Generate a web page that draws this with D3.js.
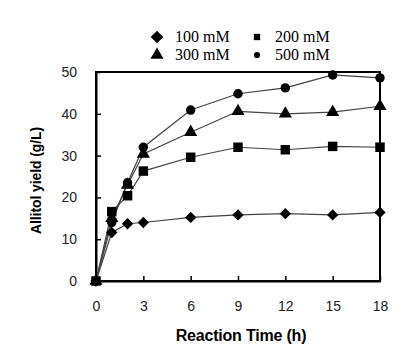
<!DOCTYPE html>
<html>
<head>
<meta charset="utf-8">
<script src="https://cdn.jsdelivr.net/npm/d3@7"></script>
<style>
  body { margin: 0; background: #fff; }
</style>
</head>
<body>
<div id="chart"></div>
<script>
// Allitol yield over reaction time at different substrate concentrations

const times = [0, 1, 2, 3, 6, 9, 12, 15, 18];
const yield100 = [0, 11.6, 13.7, 14.0, 15.2, 15.8, 16.1, 15.8, 16.4];
const yield200 = [0, 16.6, 20.4, 26.3, 29.6, 32.0, 31.4, 32.2, 32.0];
const yield300 = [0, 15.0, 23.0, 30.4, 35.6, 40.6, 40.0, 40.4, 41.8];
const yield500 = [0, 14.0, 23.5, 32.0, 40.9, 44.8, 46.2, 49.3, 48.6];
const seriesNames = ["100 mM", "200 mM", "300 mM", "500 mM"];
const xTicks = [0, 3, 6, 9, 12, 15, 18];
const yTicks = [0, 10, 20, 30, 40, 50];

const width = 417;
const height = 361;
const margin = {top: 72, right: 37, bottom: 80, left: 96};

const svg = d3.select("#chart")
  .append("svg")
  .attr("width", width)
  .attr("height", height);

const x = d3.scaleLinear()
  .domain([0, 18])
  .range([margin.left, width - margin.right]);

const y = d3.scaleLinear()
  .domain([0, 50])
  .range([height - margin.bottom, margin.top]);

// diamond = square turned by 45 degrees
const diamond = {
  draw(context, size) {
    const r = Math.sqrt(size / 2);
    context.moveTo(0, -r);
    context.lineTo(r, 0);
    context.lineTo(0, r);
    context.lineTo(-r, 0);
    context.closePath();
  }
};

// series with their marker shapes, drawn so the 200 mM squares end on top
const series = [
  {name: seriesNames[3], values: yield500, symbol: d3.symbolCircle, size: 70},
  {name: seriesNames[2], values: yield300, symbol: d3.symbolTriangle, size: 75},
  {name: seriesNames[0], values: yield100, symbol: diamond, size: 64},
  {name: seriesNames[1], values: yield200, symbol: d3.symbolSquare, size: 90}
];

// frame
svg.append("rect")
  .attr("x", x(0))
  .attr("y", y(50))
  .attr("width", x(18) - x(0))
  .attr("height", y(0) - y(50))
  .attr("fill", "none")
  .attr("stroke", "#000")
  .attr("stroke-width", 2);

// axes with inward ticks
const xAxis = svg.append("g")
  .attr("transform", `translate(0,${y(0)})`)
  .call(d3.axisBottom(x).tickValues(xTicks).tickSizeInner(-5).tickSizeOuter(0).tickPadding(20));

const yAxis = svg.append("g")
  .attr("transform", `translate(${x(0)},0)`)
  .call(d3.axisLeft(y).tickValues(yTicks).tickSizeInner(-5).tickSizeOuter(0).tickPadding(19));

[xAxis, yAxis].forEach(a => {
  a.select(".domain").attr("stroke", "#000").attr("stroke-width", 2);
  a.selectAll(".tick line").attr("stroke", "#000").attr("stroke-width", 1.5);
  a.selectAll(".tick text")
    .attr("fill", "#222")
    .attr("font-family", "Liberation Sans, Arial, sans-serif")
    .attr("font-size", 14);
});

// lines
const line = d3.line()
  .x((d, i) => x(times[i]))
  .y(d => y(d));

series.forEach(s => {
  svg.append("path")
    .datum(s.values)
    .attr("fill", "none")
    .attr("stroke", "#444")
    .attr("stroke-width", 1.2)
    .attr("d", line);
});

series.forEach(s => {
  svg.append("g")
    .selectAll("path")
    .data(s.values)
    .join("path")
      .attr("transform", (d, i) => `translate(${x(times[i])},${y(d)})`)
      .attr("d", d3.symbol().type(s.symbol).size(s.size))
      .attr("fill", "#000");
});

// axis titles
svg.append("text")
  .attr("x", (x(0) + x(18)) / 2 + 3)
  .attr("y", 341)
  .attr("text-anchor", "middle")
  .attr("font-family", "Liberation Sans, Arial, sans-serif")
  .attr("font-weight", "bold")
  .attr("font-size", 16)
  .attr("letter-spacing", -0.2)
  .text("Reaction Time (h)");

svg.append("text")
  .attr("transform", `translate(41,${(y(0) + y(50)) / 2 + 4}) rotate(-90)`)
  .attr("text-anchor", "middle")
  .attr("font-family", "Liberation Sans, Arial, sans-serif")
  .attr("font-weight", "bold")
  .attr("font-size", 14)
  .attr("letter-spacing", -0.1)
  .text("Allitol yield (g/L)");

// legend
const legendItems = [
  {name: seriesNames[0], symbol: diamond, size: 80, col: 0, row: 0},
  {name: seriesNames[1], symbol: d3.symbolSquare, size: 40, col: 1, row: 0},
  {name: seriesNames[2], symbol: d3.symbolTriangle, size: 75, col: 0, row: 1},
  {name: seriesNames[3], symbol: d3.symbolCircle, size: 30, col: 1, row: 1}
];

const legend = svg.append("g")
  .selectAll("g")
  .data(legendItems)
  .join("g")
    .attr("transform", d => `translate(${157 + d.col * 100},${37 + d.row * 18})`);

legend.append("path")
  .attr("d", d => d3.symbol().type(d.symbol).size(d.size)())
  .attr("fill", "#000");

legend.append("text")
  .attr("x", 18)
  .attr("y", 5)
  .attr("font-family", "Liberation Serif, Times New Roman, serif")
  .attr("font-size", 16)
  .text(d => d.name);
</script>
</body>
</html>
